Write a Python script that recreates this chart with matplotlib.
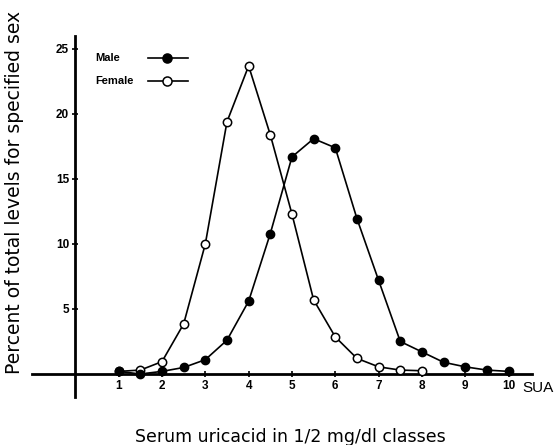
import matplotlib.pyplot as plt
from matplotlib.lines import Line2D

# serum uric acid classes (1/2 mg/dl) and percent of levels per sex
sua = [1, 1.5, 2, 2.5, 3, 3.5, 4, 4.5, 5, 5.5, 6, 6.5, 7, 7.5, 8, 8.5, 9, 9.5, 10]
male = [0.2, 0.0, 0.2, 0.5, 1.1, 2.6, 5.6, 10.8, 16.7, 18.1, 17.4, 11.95, 7.2, 2.5, 1.7, 0.9, 0.55, 0.3, 0.2]
sua_f = [1, 1.5, 2, 2.5, 3, 3.5, 4, 4.5, 5, 5.5, 6, 6.5, 7, 7.5, 8]
female = [0.2, 0.3, 0.95, 3.85, 10.0, 19.4, 23.7, 18.4, 12.3, 5.7, 2.85, 1.2, 0.55, 0.3, 0.25]
xticks = [1, 2, 3, 4, 5, 6, 7, 8, 9, 10]
yticks = [5, 10, 15, 20, 25]

plt.rcParams['font.family'] = ['Liberation Sans', 'DejaVu Sans']

fig = plt.figure(figsize=(5.57, 4.45), dpi=100)
ax = fig.add_axes([32 / 557, 48 / 445, 500 / 557, 361 / 445])

ax.plot(sua_f, female, color='black', lw=1.2, marker='o', ms=6,
        mfc='white', mec='black', mew=1.1, zorder=3)
ax.plot(sua, male, color='black', lw=1.2, marker='o', ms=6,
        mfc='black', mec='black', zorder=4)

ax.set_xlim(-1.0, 10.54)
ax.set_ylim(-1.77, 26)

for s in ['top', 'right']:
    ax.spines[s].set_visible(False)
ax.spines['left'].set_position(('data', 0))
ax.spines['bottom'].set_position(('data', 0))
ax.spines['left'].set_linewidth(2)
ax.spines['bottom'].set_linewidth(2)

ax.set_xticks(xticks)
ax.set_xticklabels([str(t) for t in xticks], fontsize=8.5, fontweight='bold')
ax.set_yticks(yticks)
ax.set_yticklabels([str(t) for t in yticks], fontsize=8.5, fontweight='bold')
ax.tick_params(axis='both', direction='inout', length=5, width=1.2, pad=2)

fig.text(522 / 557, 1 - 388 / 445, 'SUA', fontsize=11, va='center', ha='left')

# legend drawn by hand like the original
def legend_row(ypx, label, face):
    y = 1 - ypx / 445
    fig.text(95 / 557, y, label, fontsize=8, fontweight='bold', va='center')
    fig.add_artist(Line2D([148 / 557, 188 / 557], [y, y], color='black', lw=1.2))
    fig.add_artist(Line2D([167 / 557], [y], marker='o', ms=6.5, mfc=face,
                          mec='black', mew=1.1, color='black'))

legend_row(58, 'Male', 'black')
legend_row(81, 'Female', 'white')

fig.text(15 / 557, 1 - 192 / 445, 'Percent of total levels for specified sex',
         rotation=90, ha='center', va='center', fontsize=13.5, family='DejaVu Sans')
fig.text(290 / 557, 1 - 437 / 445, 'Serum uricacid in 1/2 mg/dl classes',
         ha='center', va='center', fontsize=12.5, family='DejaVu Sans')

fig.savefig('out.png', dpi=100)
